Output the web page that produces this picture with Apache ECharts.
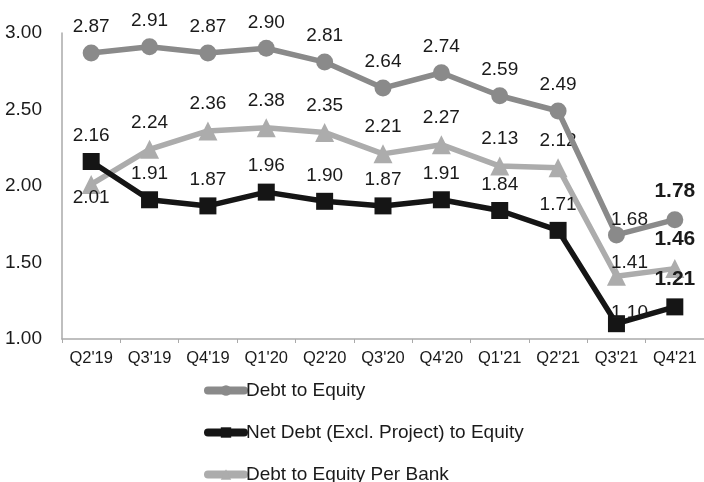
<!DOCTYPE html>
<html>
<head>
<meta charset="utf-8">
<script src="https://cdn.jsdelivr.net/npm/echarts@6/dist/echarts.min.js"></script>
<style>
  html, body { margin: 0; padding: 0; background: #fff; }
  #chart { width: 704px; height: 482px; }
</style>
</head>
<body>
<div id="chart"></div>
<script>
// 季度
var quarters = ["Q2'19", "Q3'19", "Q4'19", "Q1'20", "Q2'20", "Q3'20", "Q4'20", "Q1'21", "Q2'21", "Q3'21", "Q4'21"];
var debtToEquity = [2.87, 2.91, 2.87, 2.90, 2.81, 2.64, 2.74, 2.59, 2.49, 1.68, 1.78];
var netDebtToEquity = [2.16, 1.91, 1.87, 1.96, 1.90, 1.87, 1.91, 1.84, 1.71, 1.10, 1.21];
var perBank = [2.01, 2.24, 2.36, 2.38, 2.35, 2.21, 2.27, 2.13, 2.12, 1.41, 1.46];
var seriesNames = ['Debt to Equity', 'Net Debt (Excl. Project) to Equity', 'Debt to Equity Per Bank'];

var chart = echarts.init(document.getElementById('chart'));

// 最后一个点用粗体
function withLabels(values, special) {
    return values.map(function (v, i) {
        var item = { value: v };
        if (i === values.length - 1) {
            item.label = { fontWeight: 'bold', fontSize: 21, distance: 9 };
        }
        if (special && special[i]) {
            item.label = Object.assign(item.label || {}, special[i]);
        }
        return item;
    });
}

var baseLabel = {
    show: true,
    position: 'top',
    distance: 8,
    color: '#1a1a1a',
    fontSize: 19,
    fontFamily: 'Liberation Sans',
    formatter: function (p) { return p.value.toFixed(2); }
};

// 图例分三个，竖排
function legendAt(name, top) {
    return {
        data: [name],
        left: 204,
        top: top,
        padding: 0,
        itemWidth: 36,
        itemHeight: 13,
        lineStyle: { width: 8, cap: 'round' },
        textStyle: { fontSize: 19, color: '#1a1a1a', fontFamily: 'Liberation Sans', padding: [0, 0, 0, -3] }
    };
}

var option = {
    animation: false,
    grid: {
        left: 62,
        right: 0,
        top: 33,
        bottom: 143
    },
    legend: [
        legendAt(seriesNames[0], 381),
        legendAt(seriesNames[1], 423),
        legendAt(seriesNames[2], 465)
    ],
    xAxis: {
        type: 'category',
        data: quarters,
        boundaryGap: true,
        axisLine: { lineStyle: { color: '#aaa', width: 1.5 } },
        axisTick: { show: true, length: 4, lineStyle: { color: '#aaa' } },
        axisLabel: { color: '#1a1a1a', fontSize: 16.5, fontFamily: 'Liberation Sans', margin: 11, interval: 0 }
    },
    yAxis: {
        type: 'value',
        min: 1,
        max: 3,
        interval: 0.5,
        splitLine: { show: false },
        axisLine: { show: true, lineStyle: { color: '#aaa', width: 1.5 } },
        axisTick: { show: false },
        axisLabel: {
            color: '#1a1a1a',
            fontSize: 19,
            fontFamily: 'Liberation Sans',
            margin: 20,
            formatter: function (v) { return v.toFixed(2); }
        }
    },
    series: [
        {
            name: seriesNames[0],
            type: 'line',
            data: withLabels(debtToEquity, { 9: { offset: [13, 11] } }),
            symbol: 'circle',
            symbolSize: 17,
            lineStyle: { width: 5.5, color: '#8a8a8a' },
            itemStyle: { color: '#8a8a8a' },
            label: baseLabel,
            z: 3
        },
        {
            name: seriesNames[1],
            type: 'line',
            data: withLabels(netDebtToEquity, { 9: { offset: [13, 15] } }),
            symbol: 'rect',
            symbolSize: 17,
            lineStyle: { width: 5.5, color: '#151515' },
            itemStyle: { color: '#151515' },
            label: baseLabel,
            z: 2
        },
        {
            name: seriesNames[2],
            type: 'line',
            data: withLabels(perBank, { 0: { position: 'bottom', distance: -6 }, 9: { offset: [13, 13] } }),
            symbol: 'triangle',
            symbolSize: 19,
            lineStyle: { width: 5.5, color: '#acacac' },
            itemStyle: { color: '#acacac' },
            label: baseLabel,
            z: 1
        }
    ]
};
chart.setOption(option);
</script>
</body>
</html>
